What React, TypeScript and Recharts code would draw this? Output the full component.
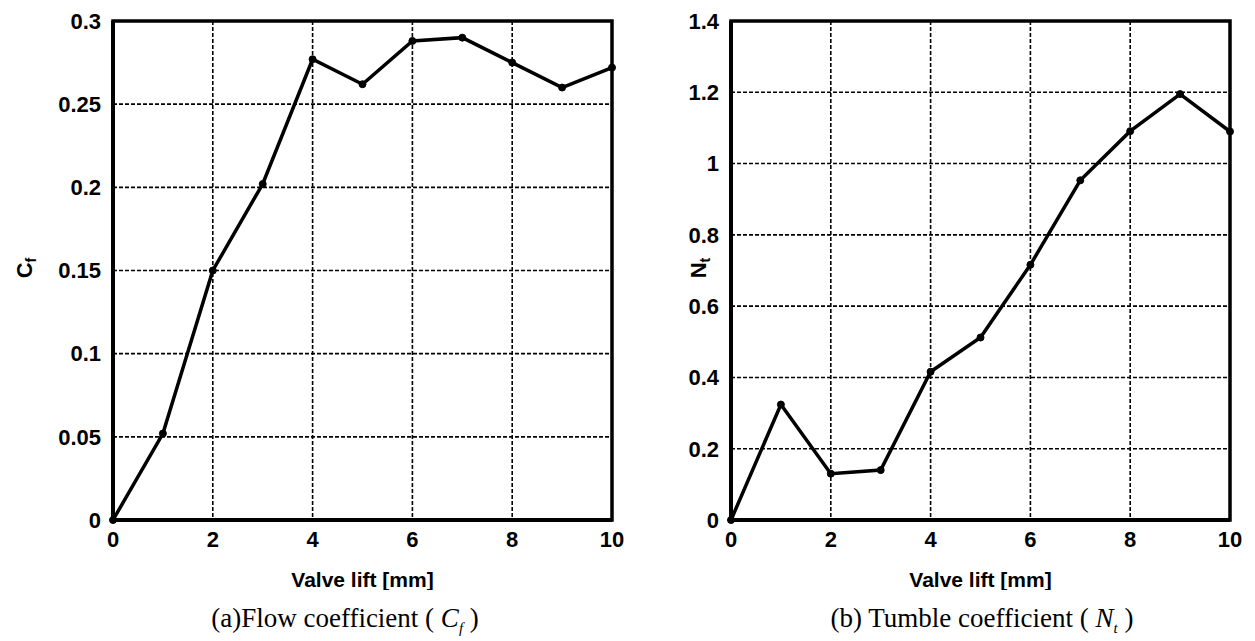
import React from 'react';
import {
  LineChart,
  Line,
  XAxis,
  YAxis,
  CartesianGrid,
  ReferenceArea,
} from 'recharts';

const liftMm = [0, 1, 2, 3, 4, 5, 6, 7, 8, 9, 10];
const flowCoef = [0, 0.052, 0.15, 0.202, 0.277, 0.262, 0.288, 0.29, 0.275, 0.26, 0.272];
const tumbleCoef = [0, 0.324, 0.13, 0.14, 0.416, 0.512, 0.716, 0.953, 1.091, 1.195, 1.09];
const liftTicks = [0, 2, 4, 6, 8, 10];
const flowTicks = [0, 0.05, 0.1, 0.15, 0.2, 0.25, 0.3];
const tumbleTicks = [0, 0.2, 0.4, 0.6, 0.8, 1, 1.2, 1.4];

const SANS = '"Liberation Sans", Arial, sans-serif';
const SERIF = '"Liberation Serif", "Times New Roman", serif';

interface PanelProps {
  values: number[];
  yTicks: number[];
  symbol: string;
  sub: string;
  titleX: number;
  left: number;
  marginRight: number;
}

function CoefPanel({ values, yTicks, symbol, sub, titleX, left, marginRight }: PanelProps) {
  const data = liftMm.map((x, i) => ({ x, y: values[i] }));
  const yMax = yTicks[yTicks.length - 1];
  const tick = { fontSize: 22, fontWeight: 700, fill: '#000', fontFamily: SANS };

  const YTitle = () => (
    <text
      x={titleX}
      y={268}
      transform={`rotate(-90 ${titleX} 268)`}
      textAnchor="middle"
      dominantBaseline="central"
      fontFamily={SANS}
      fontWeight={700}
      fontSize={22}
      fill="#000"
    >
      {symbol}
      <tspan fontSize={14} dy={7}>{sub}</tspan>
    </text>
  );

  return (
    <div style={{ position: 'absolute', left, top: 0 }}>
      <LineChart
        width={625}
        height={590}
        data={data}
        margin={{ top: 21, right: marginRight, left: 0, bottom: 0 }}
      >
        <CartesianGrid stroke="#000" strokeWidth={1.6} strokeDasharray="4 2" />
        <XAxis
          dataKey="x"
          type="number"
          domain={[0, 10]}
          ticks={liftTicks}
          height={70}
          tickSize={0}
          tickMargin={11}
          tick={tick}
          axisLine={{ stroke: '#000', strokeWidth: 4 }}
          label={{
            value: 'Valve lift [mm]',
            position: 'insideBottom',
            offset: 3,
            style: { fontSize: 21, fontWeight: 700, fill: '#000', fontFamily: SANS },
          }}
        />
        <YAxis
          type="number"
          domain={[0, yMax]}
          ticks={yTicks}
          width={113}
          tickSize={0}
          tickMargin={12}
          tick={tick}
          axisLine={{ stroke: '#000', strokeWidth: 4 }}
          label={<YTitle />}
        />
        <ReferenceArea x1={0} x2={10} y1={0} y2={yMax} fill="none" stroke="#000" strokeWidth={3.5} />
        <Line
          type="linear"
          dataKey="y"
          stroke="#000"
          strokeWidth={3.5}
          dot={{ r: 3.5, fill: '#000', stroke: '#000', strokeWidth: 1 }}
          isAnimationActive={false}
        />
      </LineChart>
    </div>
  );
}

const captionStyle: React.CSSProperties = {
  position: 'absolute',
  top: 602,
  width: 500,
  textAlign: 'center',
  fontFamily: SERIF,
  fontSize: 27,
  color: '#000',
  lineHeight: '32px',
};

export default function App() {
  return (
    <div style={{ position: 'absolute', left: 0, top: 0, width: 1255, height: 641, background: '#fff', overflow: 'hidden' }}>
      <CoefPanel values={flowCoef} yTicks={flowTicks} symbol="C" sub="f" titleX={24} left={0} marginRight={13} />
      <CoefPanel values={tumbleCoef} yTicks={tumbleTicks} symbol="N" sub="t" titleX={80} left={618} marginRight={13} />
      <div style={{ ...captionStyle, left: 95 }}>
        (a)Flow coefficient ( <i>C<sub style={{ fontSize: 15 }}>f</sub></i> )
      </div>
      <div style={{ ...captionStyle, left: 732 }}>
        (b) Tumble coefficient ( <i>N<sub style={{ fontSize: 15 }}>t</sub></i> )
      </div>
    </div>
  );
}
